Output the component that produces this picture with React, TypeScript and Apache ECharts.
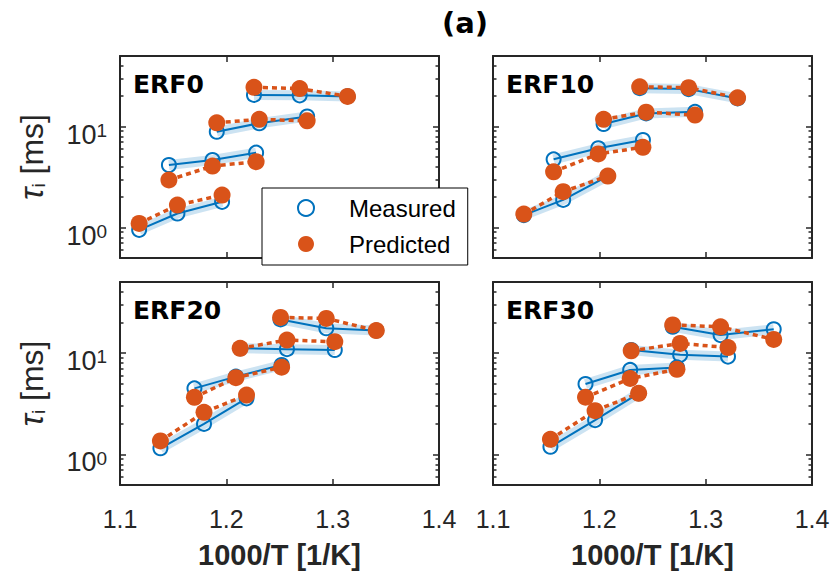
import React, { useEffect, useRef } from "react";
import * as echarts from "echarts";

// ---------- data ----------
const panelNames = ["ERF0", "ERF10", "ERF20", "ERF30"];
const xTickValues = [1.1, 1.2, 1.3, 1.4];
const yMajorTicks = [1, 10];
const yMinorTicks = [0.6, 0.7, 0.8, 0.9, 2, 3, 4, 5, 6, 7, 8, 9, 20, 30, 40];

// 1000/T [1/K], four groups of three temperatures per panel
const invT_ERF0 = [[1.226, 1.269, 1.314], [1.191, 1.231, 1.276], [1.146, 1.187, 1.228], [1.118, 1.154, 1.196]];
const invT_ERF10 = [[1.238, 1.284, 1.330], [1.204, 1.244, 1.290], [1.157, 1.199, 1.241], [1.129, 1.166, 1.208]];
const invT_ERF20 = [[1.251, 1.294, 1.341], [1.213, 1.257, 1.302], [1.170, 1.209, 1.252], [1.138, 1.179, 1.219]];
const invT_ERF30 = [[1.269, 1.314, 1.364], [1.230, 1.276, 1.321], [1.187, 1.229, 1.273], [1.154, 1.196, 1.237]];

// tau_i [ms] measured
const measured_ERF0 = [[20.6, 20.4, 19.9], [8.9, 10.8, 12.6], [4.17, 4.67, 5.52], [0.95, 1.38, 1.80]];
const measured_ERF10 = [[24.0, 23.5, 19.0], [10.6, 13.5, 14.0], [4.74, 6.1, 7.37], [1.33, 1.88, 3.24]];
const measured_ERF20 = [[21.4, 17.5, 16.6], [11.1, 10.9, 10.7], [4.48, 5.84, 7.6], [1.15, 2.0, 3.57]];
const measured_ERF30 = [[18.1, 15.0, 17.1], [10.7, 9.6, 9.2], [4.94, 6.8, 7.2], [1.19, 2.18, 4.0]];

// tau_i [ms] predicted
const predicted_ERF0 = [[24.5, 23.8, 19.9], [10.9, 11.8, 11.4], [2.96, 4.07, 4.49], [1.10, 1.67, 2.10]];
const predicted_ERF10 = [[24.8, 24.3, 19.3], [11.8, 13.9, 13.0], [3.57, 5.36, 6.24], [1.36, 2.27, 3.24]];
const predicted_ERF20 = [[22.4, 21.9, 16.6], [11.1, 13.4, 12.9], [3.65, 5.70, 7.23], [1.36, 2.60, 3.85]];
const predicted_ERF30 = [[18.9, 18.1, 13.6], [10.5, 12.4, 11.3], [3.66, 5.6, 6.9], [1.41, 2.70, 4.0]];

const invT = [invT_ERF0, invT_ERF10, invT_ERF20, invT_ERF30];
const measured = [measured_ERF0, measured_ERF10, measured_ERF20, measured_ERF30];
const predicted = [predicted_ERF0, predicted_ERF10, predicted_ERF20, predicted_ERF30];

// ---------- style ----------
const BLUE = "#0072BD";
const ORANGE = "#D95319";
const AXIS = "#262626";
const FONT = '"Liberation Sans", Arial, Helvetica, sans-serif';
const BOLDFONT = '"DejaVu Sans", "Liberation Sans", sans-serif';

const gridBoxes = [
  { left: 120, top: 56, width: 319, height: 202 },
  { left: 493, top: 56, width: 319, height: 202 },
  { left: 120, top: 282, width: 319, height: 203 },
  { left: 493, top: 282, width: 319, height: 203 },
];

function buildOption() {
  const grid: any[] = [];
  const xAxis: any[] = [];
  const yAxis: any[] = [];
  const series: any[] = [];
  const graphic: any[] = [];

  gridBoxes.forEach((g, p) => {
    const isBottom = p >= 2;
    const isLeft = p % 2 === 0;
    grid.push({ ...g, containLabel: false, outerBoundsMode: "none" });

    const tickLine = { color: AXIS, width: 1.5 };
    // bottom x axis
    xAxis.push({
      type: "value",
      gridIndex: p,
      position: "bottom",
      min: 1.1,
      max: 1.4,
      axisLine: { show: true, onZero: false, lineStyle: { color: AXIS, width: 2 } },
      axisTick: { show: true, inside: true, length: 6, customValues: xTickValues, lineStyle: tickLine },
      axisLabel: {
        show: isBottom,
        customValues: xTickValues,
        formatter: (v: number) => v.toFixed(1),
        fontSize: 25,
        fontFamily: FONT,
        color: AXIS,
        margin: 21,
      },
      splitLine: { show: false },
      name: isBottom ? "1000/T [1/K]" : "",
      nameLocation: "middle",
      nameGap: 55,
      nameTextStyle: { fontSize: 29, fontWeight: "bold", fontFamily: FONT, color: AXIS },
    });
    // top x axis (box)
    xAxis.push({
      type: "value",
      gridIndex: p,
      position: "top",
      min: 1.1,
      max: 1.4,
      axisLine: { show: true, onZero: false, lineStyle: { color: AXIS, width: 2 } },
      axisTick: { show: true, inside: true, length: 6, customValues: xTickValues, lineStyle: tickLine },
      axisLabel: { show: false },
      splitLine: { show: false },
    });

    const logBase = { type: "log", logBase: 10, gridIndex: p, min: 0.5, max: 50, splitLine: { show: false } };
    // left major
    yAxis.push({
      ...logBase,
      position: "left",
      axisLine: { show: true, onZero: false, lineStyle: { color: AXIS, width: 2 } },
      axisTick: { show: true, inside: true, length: 6, customValues: yMajorTicks, lineStyle: tickLine },
      axisLabel: {
        show: isLeft,
        customValues: yMajorTicks,
        formatter: (v: number) => `{b|10}{s|${Math.round(Math.log10(v))}}`,
        margin: 13,
        padding: [16, 0, 0, 0],
        rich: {
          b: { fontSize: 27, fontFamily: FONT, color: AXIS, lineHeight: 27 },
          s: { fontSize: 19, fontFamily: FONT, color: AXIS, lineHeight: 2, verticalAlign: "top" },
        },
      },
      name: isLeft ? "{t|τ}{s|i}{n| [ms]}" : "",
      nameLocation: "middle",
      nameGap: 72,
      nameTextStyle: {
        rich: {
          t: { fontSize: 33, fontFamily: FONT, fontStyle: "italic", color: AXIS, lineHeight: 33 },
          s: { fontSize: 19, fontFamily: FONT, color: AXIS, lineHeight: 2, verticalAlign: "bottom" },
          n: { fontSize: 32, fontFamily: FONT, color: AXIS, lineHeight: 33 },
        },
      },
    });
    // left minor
    yAxis.push({
      ...logBase,
      position: "left",
      axisLine: { show: false },
      axisTick: { show: true, inside: true, length: 3.5, customValues: yMinorTicks, lineStyle: tickLine },
      axisLabel: { show: false },
    });
    // right major
    yAxis.push({
      ...logBase,
      position: "right",
      axisLine: { show: true, onZero: false, lineStyle: { color: AXIS, width: 2 } },
      axisTick: { show: true, inside: true, length: 6, customValues: yMajorTicks, lineStyle: tickLine },
      axisLabel: { show: false },
    });
    // right minor
    yAxis.push({
      ...logBase,
      position: "right",
      axisLine: { show: false },
      axisTick: { show: true, inside: true, length: 3.5, customValues: yMinorTicks, lineStyle: tickLine },
      axisLabel: { show: false },
    });

    const xs = invT[p];
    const ms = measured[p];
    const ps = predicted[p];
    xs.forEach((grp, gi) => {
      const mData = grp.map((x, i) => [x, ms[gi][i]]);
      const pData = grp.map((x, i) => [x, ps[gi][i]]);
      series.push({
        type: "line",
        name: "Measured band",
        xAxisIndex: 2 * p,
        yAxisIndex: 4 * p,
        data: mData,
        symbol: "none",
        silent: true,
        z: 1,
        lineStyle: { color: "rgba(0,114,189,0.2)", width: 10, cap: "butt", join: "round" },
      });
      series.push({
        type: "line",
        name: "Measured",
        xAxisIndex: 2 * p,
        yAxisIndex: 4 * p,
        data: mData,
        symbol: "circle",
        symbolSize: 14,
        z: 2,
        itemStyle: { color: "rgba(0,0,0,0)", borderColor: BLUE, borderWidth: 2 },
        lineStyle: { color: BLUE, width: 2 },
        emphasis: { disabled: true },
      });
      series.push({
        type: "line",
        name: "Predicted",
        xAxisIndex: 2 * p,
        yAxisIndex: 4 * p,
        data: pData,
        symbol: "circle",
        symbolSize: 17,
        z: 3,
        itemStyle: { color: ORANGE },
        lineStyle: { color: ORANGE, width: 3.5, type: [5, 4] },
        emphasis: { disabled: true },
      });
    });

    graphic.push({
      type: "text",
      x: g.left + 13,
      y: g.top + 28,
      style: {
        text: panelNames[p],
        fontSize: 25,
        fontWeight: "bold",
        fontFamily: BOLDFONT,
        fill: "#000",
        align: "left",
        verticalAlign: "middle",
      },
    });
  });

  graphic.push({
    type: "text",
    x: 465,
    y: 23,
    style: {
      text: "(a)",
      fontSize: 29,
      fontWeight: "bold",
      fontFamily: BOLDFONT,
      fill: "#000",
      align: "center",
      verticalAlign: "middle",
    },
  });

  return {
    animation: false,
    backgroundColor: "#fff",
    grid,
    xAxis,
    yAxis,
    series,
    graphic,
    legend: {
      orient: "vertical",
      left: 262,
      top: 188,
      padding: [8, 12, 9, 35],
      itemGap: 12,
      itemWidth: 16,
      itemHeight: 16,
      selectedMode: false,
      backgroundColor: "#fff",
      borderColor: "#000",
      borderWidth: 1,
      borderRadius: 0,
      formatter: (name: string) => `{gap|}{txt|${name}}`,
      textStyle: {
        fontSize: 24,
        lineHeight: 24,
        fontFamily: FONT,
        color: "#000",
        rich: {
          gap: { width: 30, lineHeight: 24 },
          txt: { fontSize: 24, lineHeight: 24, fontFamily: FONT, color: "#000" },
        },
      },
      data: [
        { name: "Measured", icon: "circle", itemStyle: { color: "#fff", borderColor: BLUE, borderWidth: 2 } },
        { name: "Predicted", icon: "circle", itemStyle: { color: ORANGE, borderWidth: 0 } },
      ],
    },
  };
}

export default function App() {
  const ref = useRef<HTMLDivElement>(null);
  useEffect(() => {
    if (!ref.current) return;
    const chart = echarts.init(ref.current, undefined, { renderer: "svg" });
    chart.setOption(buildOption() as any);
    return () => chart.dispose();
  }, []);
  return (
    <div
      ref={ref}
      style={{ position: "absolute", left: 0, top: 0, width: 834, height: 576, background: "#fff" }}
    />
  );
}
